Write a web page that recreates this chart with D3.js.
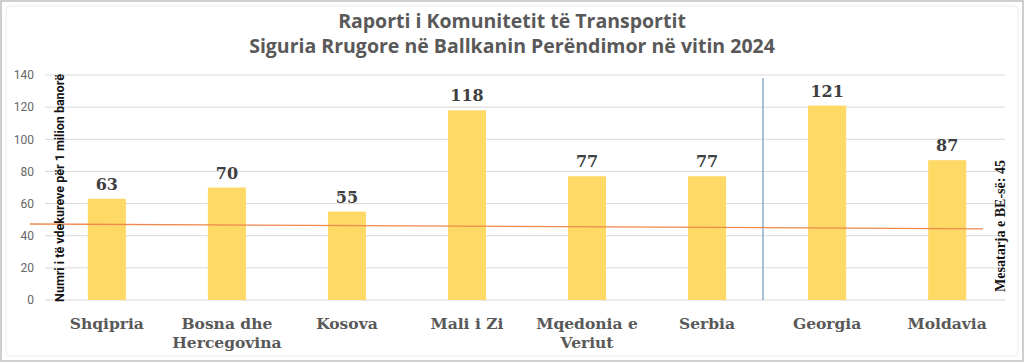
<!DOCTYPE html>
<html>
<head>
<meta charset="utf-8">
<script src="https://cdn.jsdelivr.net/npm/d3@7"></script>
<style>
  body { margin: 0; background: #fff; }
  svg { display: block; }
</style>
</head>
<body>
<div id="chart"></div>
<script>
// data
var countries = ["Shqipria", "Bosna dhe Hercegovina", "Kosova", "Mali i Zi",
                 "Mqedonia e Veriut", "Serbia", "Georgia", "Moldavia"];
var labelLines = [["Shqipria"], ["Bosna dhe", "Hercegovina"], ["Kosova"], ["Mali i Zi"],
                  ["Mqedonia e", "Veriut"], ["Serbia"], ["Georgia"], ["Moldavia"]];
var deaths = [63, 70, 55, 118, 77, 77, 121, 87];
var yTicks = [0, 20, 40, 60, 80, 100, 120, 140];
// the EU average line in the picture is drawn slightly sloped (left end, right end)
var euLine = [47.3, 44.3];
var euLabel = "Mesatarja e BE-së: 45";
var titleLines = ["Raporti i Komunitetit të Transportit",
                  "Siguria Rrugore në Ballkanin Perëndimor në vitin 2024"];

var width = 1024, height = 362;
var svg = d3.select("#chart").append("svg")
    .attr("width", width)
    .attr("height", height);

// frame
svg.append("rect")
    .attr("x", 1).attr("y", 1)
    .attr("width", width - 2).attr("height", height - 2)
    .attr("fill", "#fff")
    .attr("stroke", "#cfcfcf")
    .attr("stroke-width", 2);
svg.append("rect")
    .attr("x", 6).attr("y", 6)
    .attr("width", width - 12).attr("height", height - 12)
    .attr("rx", 4)
    .attr("fill", "none")
    .attr("stroke", "#ececec");

var x = d3.scaleBand()
    .domain(countries)
    .range([47, 1007])
    .paddingInner(0.683)
    .paddingOuter(0.34);

var y = d3.scaleLinear()
    .domain([0, 140])
    .range([300, 75]);

// title
svg.append("g")
    .selectAll("text")
    .data(titleLines)
    .enter()
    .append("text")
        .attr("x", 512)
        .attr("y", function(d, i) { return 28 + i * 25; })
        .attr("text-anchor", "middle")
        .attr("font-family", "'Open Sans', 'Roboto', sans-serif")
        .attr("font-weight", "bold")
        .attr("font-size", 19.5)
        .attr("fill", "#595959")
        .text(function(d) { return d; });

// gridlines
svg.append("g")
    .selectAll("line")
    .data(yTicks)
    .enter()
    .append("line")
        .attr("x1", 45)
        .attr("x2", 1005)
        .attr("y1", function(d) { return y(d); })
        .attr("y2", function(d) { return y(d); })
        .attr("stroke", "#d9d9d9")
        .attr("stroke-width", 1);

// y axis labels
var yAxis = svg.append("g")
    .attr("transform", "translate(38,0)")
    .call(d3.axisLeft(y).tickValues(yTicks).tickSize(0).tickPadding(4));
yAxis.select(".domain").remove();
yAxis.selectAll("text")
    .attr("font-family", "'Roboto', sans-serif")
    .attr("font-size", 12)
    .attr("fill", "#666");

// separator between Western Balkans and others
svg.append("line")
    .attr("x1", 763).attr("x2", 763)
    .attr("y1", 78).attr("y2", 300)
    .attr("stroke", "#8eaecb")
    .attr("stroke-width", 1.5);

// bars
svg.append("g")
    .selectAll("rect")
    .data(deaths)
    .enter()
    .append("rect")
        .attr("x", function(d, i) { return x(countries[i]); })
        .attr("y", function(d) { return y(d); })
        .attr("width", x.bandwidth())
        .attr("height", function(d) { return y(0) - y(d); })
        .attr("fill", "#ffd966");

// EU average line
svg.append("line")
    .attr("x1", 30).attr("x2", 983)
    .attr("y1", y(euLine[0]))
    .attr("y2", y(euLine[1]))
    .attr("stroke", "#ee8a4e")
    .attr("stroke-width", 1.3);

// value labels
svg.append("g")
    .selectAll("text")
    .data(deaths)
    .enter()
    .append("text")
        .attr("x", function(d, i) { return x(countries[i]) + x.bandwidth() / 2; })
        .attr("y", function(d) { return y(d) - 9; })
        .attr("text-anchor", "middle")
        .attr("font-family", "'DejaVu Serif', 'Liberation Serif', serif")
        .attr("font-weight", "bold")
        .attr("font-size", 16)
        .attr("fill", "#404040")
        .text(function(d) { return d; });

// category labels
var cat = svg.append("g")
    .selectAll("text")
    .data(labelLines)
    .enter()
    .append("text")
        .attr("text-anchor", "middle")
        .attr("font-family", "'DejaVu Serif', 'Liberation Serif', serif")
        .attr("font-weight", "bold")
        .attr("font-size", 15.5)
        .attr("fill", "#595959");
cat.selectAll("tspan")
    .data(function(d, i) {
        return d.map(function(line) { return {line: line, c: countries[i]}; });
    })
    .enter()
    .append("tspan")
        .attr("x", function(d) { return x(d.c) + x.bandwidth() / 2; })
        .attr("y", function(d, j) { return 329 + j * 19; })
        .text(function(d) { return d.line; });

// y axis title
svg.append("text")
    .attr("transform", "translate(64,188) rotate(-90)")
    .attr("text-anchor", "middle")
    .attr("font-family", "'Liberation Sans Narrow', 'Roboto', sans-serif")
    .attr("font-weight", "bold")
    .attr("font-size", 12.5)
    .attr("fill", "#111")
    .text("Numri i të vdekureve për 1 milion banorë");

// EU average label
svg.append("text")
    .attr("transform", "translate(1005,226) rotate(-90)")
    .attr("text-anchor", "middle")
    .attr("font-family", "'Liberation Serif', serif")
    .attr("font-weight", "bold")
    .attr("font-size", 14)
    .attr("fill", "#111")
    .text(euLabel);
</script>
</body>
</html>
